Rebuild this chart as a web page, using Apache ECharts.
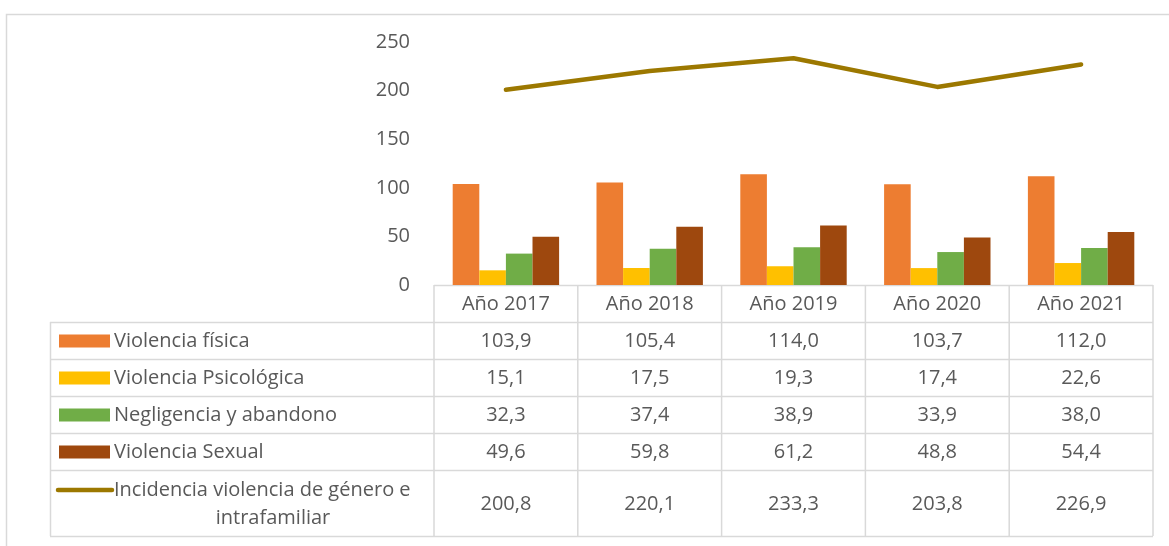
<!DOCTYPE html>
<html><head><meta charset="utf-8">
<script src="https://cdn.jsdelivr.net/npm/echarts@6/dist/echarts.min.js"></script>
<style>html,body{margin:0;padding:0;background:#fff}#c{width:1169px;height:546px}</style>
</head><body><div id="c"></div>
<script>
const categories = ['Año 2017','Año 2018','Año 2019','Año 2020','Año 2021'];
const seriesNames = ['Violencia física','Violencia Psicológica','Negligencia y abandono','Violencia Sexual','Incidencia violencia de género e intrafamiliar'];
const fisica = [103.9,105.4,114.0,103.7,112.0];
const psicologica = [15.1,17.5,19.3,17.4,22.6];
const negligencia = [32.3,37.4,38.9,33.9,38.0];
const sexual = [49.6,59.8,61.2,48.8,54.4];
const incidencia = [200.8,220.1,233.3,203.8,226.9];
const yTicks = [0,50,100,150,200,250];

const colors = ['#ED7D31','#FFC000','#70AD47','#9E480E','#9C7800'];
const textColor = '#595959';
const gridColor = '#D9D9D9';
const FONT = '"Open Sans"';
const FS = 20;

// layout
const plotL = 434, plotR = 1153, plotT = 42, plotB = 285;
const tableL = 50;
const rowLines = [285, 322, 359, 396, 433, 470, 536];

const allSeries = [fisica, psicologica, negligencia, sexual, incidencia];
const fmt = v => v.toFixed(1).replace('.', ',');

const chart = echarts.init(document.getElementById('c'));
const colW = (plotR - plotL) / categories.length;
const g = [];
g.push({type:'rect', shape:{x:6.5,y:14.5,width:1200,height:560}, style:{fill:'none',stroke:gridColor,lineWidth:1.5}, z:0});
rowLines.forEach((y,i)=>{
  g.push({type:'line', shape:{x1: i===0?plotL:tableL, y1:y+0.5, x2:plotR, y2:y+0.5}, style:{stroke:gridColor,lineWidth:1.5}});
});
g.push({type:'line', shape:{x1:tableL+0.5,y1:rowLines[1],x2:tableL+0.5,y2:rowLines[6]}, style:{stroke:gridColor,lineWidth:1.5}});
for (let i=0;i<=categories.length;i++){
  const x = plotL + i*colW;
  g.push({type:'line', shape:{x1:x,y1:rowLines[0],x2:x,y2:rowLines[6]}, style:{stroke:gridColor,lineWidth:1.5}});
}
categories.forEach((c,i)=>{
  g.push({type:'text', x: plotL + (i+0.5)*colW, y:(rowLines[0]+rowLines[1])/2+1,
    style:{text:c, fill:textColor, font:FS+'px '+FONT, align:'center', verticalAlign:'middle'}});
});
allSeries.forEach((arr,r)=>{
  const yc = (rowLines[r+1]+rowLines[r+2])/2 + 1;
  if (r<4){
    g.push({type:'rect', shape:{x:59,y:yc-7,width:51,height:13}, style:{fill:colors[r]}});
    g.push({type:'text', x:114, y:yc, style:{text:seriesNames[r], fill:textColor, font:FS+'px '+FONT, verticalAlign:'middle'}});
  } else {
    g.push({type:'line', shape:{x1:58,y1:yc-14,x2:112,y2:yc-14}, style:{stroke:colors[r],lineWidth:4.5,lineCap:'round'}});
    g.push({type:'text', x:114, y:yc-14, style:{text:'Incidencia violencia de género e', fill:textColor, font:FS+'px '+FONT, verticalAlign:'middle'}});
    g.push({type:'text', x:273, y:yc+14, style:{text:'intrafamiliar', fill:textColor, font:FS+'px '+FONT, align:'center', verticalAlign:'middle'}});
  }
  arr.forEach((v,i)=>{
    g.push({type:'text', x: plotL + (i+0.5)*colW, y:yc,
      style:{text:fmt(v), fill:textColor, font:FS+'px '+FONT, align:'center', verticalAlign:'middle'}});
  });
});

const series = [];
for (let s=0;s<4;s++){
  series.push({name:seriesNames[s], type:'bar', data:allSeries[s], barGap:'0%', barCategoryGap:'26%',
    itemStyle:{color:colors[s]}, silent:true});
}
series.push({name:seriesNames[4], type:'line', data:incidencia, symbol:'none',
  lineStyle:{color:colors[4], width:4.5, cap:'round', join:'round'}, z:5, silent:true});

chart.setOption({
  animation:false,
  grid:{left:plotL, right:1169-plotR, top:plotT, bottom:546-plotB, containLabel:false},
  xAxis:{type:'category', data:categories, axisLine:{show:false}, axisTick:{show:false}, axisLabel:{show:false}},
  yAxis:{type:'value', min:yTicks[0], max:yTicks[yTicks.length-1], interval:50,
    axisLine:{show:false}, axisTick:{show:false}, splitLine:{show:false},
    axisLabel:{color:textColor, fontSize:FS, fontFamily:'Open Sans', margin:24}},
  series: series,
  graphic: g
});
</script></body></html>
